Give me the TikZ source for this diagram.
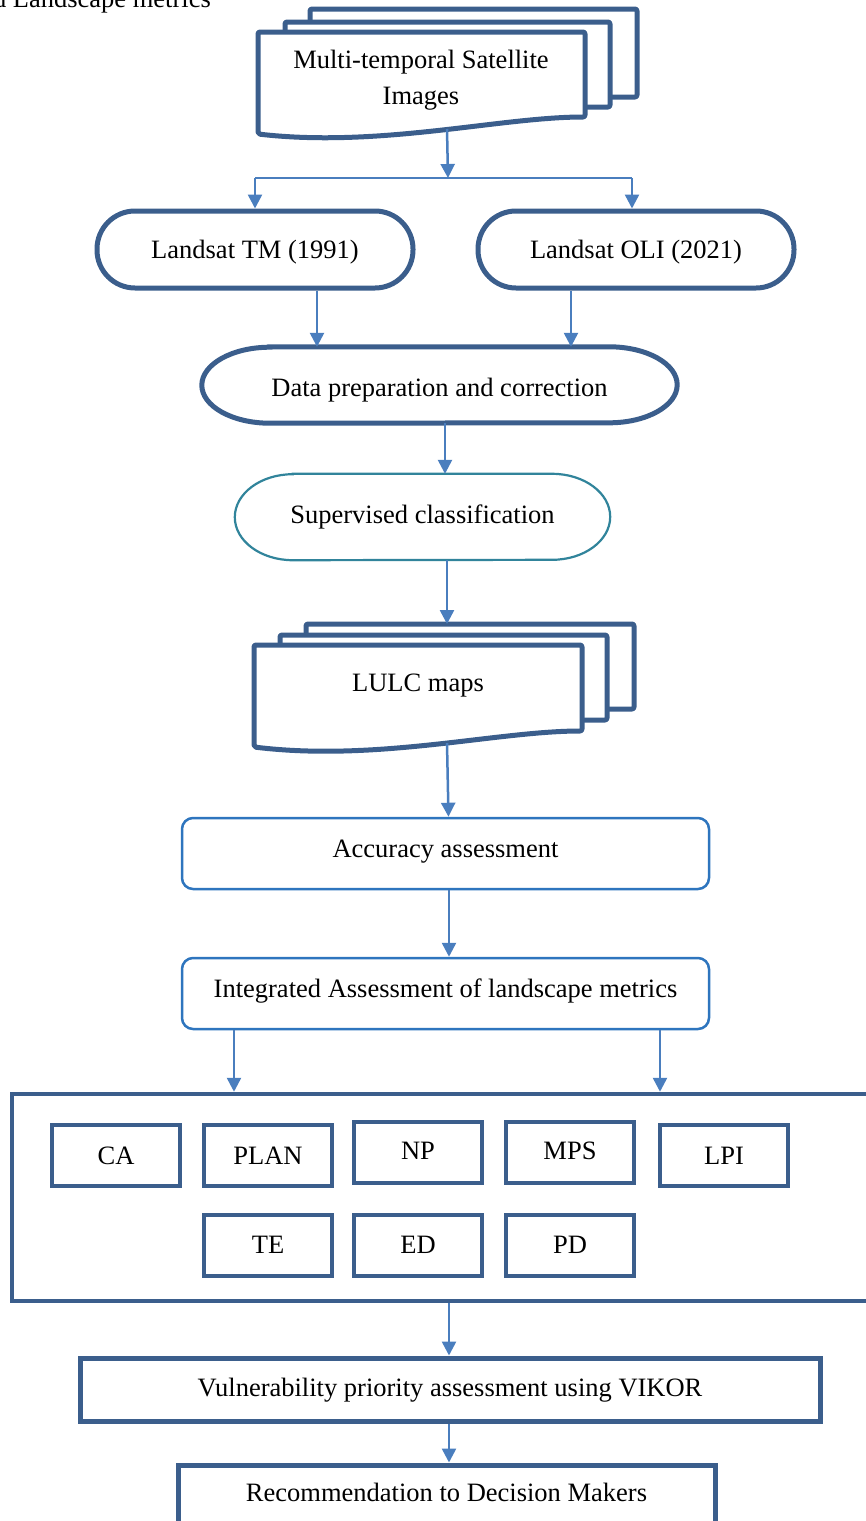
\documentclass[tikz,border=0pt]{standalone}
\usepackage{fontspec}
\setmainfont{Liberation Serif}
\usetikzlibrary{arrows.meta}
\definecolor{dkblue}{RGB}{59,94,140}
\definecolor{arrblue}{RGB}{74,126,190}
\definecolor{tealb}{RGB}{49,132,155}
\definecolor{midblue}{RGB}{46,117,190}
\begin{document}
\begin{tikzpicture}[x=1pt,y=-1pt,
  font=\fontsize{26.5}{36}\selectfont,
  doc/.style={draw=dkblue, line width=5pt, fill=white, line join=round, rounded corners=2pt},
  stadium/.style={draw=dkblue, line width=5pt, fill=white, inner sep=0pt},
  pillthin/.style={draw=tealb, line width=2.2pt, fill=white, inner sep=0pt},
  roundbox/.style={draw=midblue, line width=2.5pt, fill=white, inner sep=0pt, rounded corners=11pt},
  metricbox/.style={draw=dkblue, line width=4.5pt, fill=white, inner sep=0pt, minimum width=128pt},
  plainbox/.style={draw=dkblue, line width=5pt, fill=white, inner sep=0pt},
  arr/.style={draw=arrblue, line width=2.5pt, -{Triangle[width=14pt,length=14pt]}},
  plainline/.style={draw=arrblue, line width=2.2pt}]
\useasboundingbox (0,0) rectangle (866,1521);
\clip (0,0) rectangle (866,1521);

% caption fragment
\node[anchor=base east, inner sep=0pt] (cap) at (211,7) {and Landscape metrics};

% multi-document: satellite images
\draw[doc] (310,9) rectangle (637,97);
\draw[doc] (285,22) rectangle (610,107);
\draw[doc] (258,32) -- (585,32) -- (585,117) .. controls (500,117) and (380,148) .. (258,134) -- cycle;
\node[align=center, inner sep=0pt] (mts) at (421,80.5) {Multi-temporal Satellite\\Images};
\coordinate (mtsb) at (447,129);
\coordinate (split) at (448,178);
\coordinate (splitL) at (255,178);
\coordinate (splitR) at (632,178);

% Landsat nodes
\node[stadium, rounded corners=38pt, minimum width=316pt, text height=47.5pt, text depth=29.5pt] (tm) at (255,249.5) {Landsat TM (1991)};
\node[stadium, rounded corners=38pt, minimum width=316pt, text height=47.5pt, text depth=29.5pt] (oli) at (636,249.5) {Landsat OLI (2021)};

% data preparation (elliptic ends)
\node[inner sep=0pt, minimum width=475pt, text height=49.5pt, text depth=26.5pt] (dp) at (439.5,385) {};
\draw[draw=dkblue, line width=5pt, fill=white]
  ([xshift=68pt]dp.north west) -- ([xshift=-68pt]dp.north east)
  arc[start angle=90, end angle=-90, x radius=68pt, y radius=38pt]
  -- ([xshift=68pt]dp.south west)
  arc[start angle=270, end angle=90, x radius=68pt, y radius=38pt] -- cycle;
\node[inner sep=0pt, minimum width=475pt, text height=49.5pt, text depth=26.5pt] at (dp.center) {Data preparation and correction};

% supervised classification
\node[inner sep=0pt, minimum width=375pt, text height=49.5pt, text depth=36.5pt] (sc) at (422.5,517) {};
\draw[draw=tealb, line width=2.2pt, fill=white]
  ([xshift=58pt]sc.north west) -- ([xshift=-58pt]sc.north east)
  arc[start angle=90, end angle=-90, x radius=58pt, y radius=43pt]
  -- ([xshift=58pt]sc.south west)
  arc[start angle=270, end angle=90, x radius=58pt, y radius=43pt] -- cycle;
\node[inner sep=0pt, minimum width=375pt, text height=49.5pt, text depth=36.5pt] at (sc.center) {Supervised classification};

% multi-document: LULC maps
\draw[doc] (306,624) rectangle (634,709);
\draw[doc] (280,635) rectangle (607,720);
\draw[doc] (254,645) -- (582,645) -- (582,731) .. controls (497,731) and (377,762) .. (254,747) -- cycle;
\node[anchor=base, inner sep=0pt] (lulc) at (418,691.5) {LULC maps};
\coordinate (lulct) at (447,624);
\coordinate (lulcb) at (447,743);

% accuracy and integrated assessment
\node[roundbox, minimum width=527pt, text height=39.5pt, text depth=31.5pt] (acc) at (445.5,853.5) {Accuracy assessment};
\node[roundbox, minimum width=527pt, text height=39.5pt, text depth=31.5pt] (int) at (445.5,993.5) {Integrated Assessment of landscape metrics};

% metrics container
\node[draw=dkblue, line width=4.5pt, inner sep=0pt, minimum width=868pt, minimum height=207pt] (lm) at (446,1197.5) {};
\node[metricbox, text height=39pt, text depth=22pt] (ca) at (116,1155.5) {CA};
\node[metricbox, text height=39pt, text depth=22pt] (plan) at (268,1155.5) {PLAN};
\node[metricbox, text height=37.5pt, text depth=23.5pt] (np) at (418,1152.5) {NP};
\node[metricbox, text height=37.5pt, text depth=23.5pt] (mps) at (570,1152.5) {MPS};
\node[metricbox, text height=39pt, text depth=22pt] (lpi) at (724,1155.5) {LPI};
\node[metricbox, text height=38.5pt, text depth=22.5pt] (te) at (268,1245.5) {TE};
\node[metricbox, text height=38.5pt, text depth=22.5pt] (ed) at (418,1245.5) {ED};
\node[metricbox, text height=38.5pt, text depth=22.5pt] (pd) at (570,1245.5) {PD};

% VIKOR and recommendation
\node[plainbox, minimum width=740pt, text height=38.5pt, text depth=24.5pt] (vik) at (450,1389.5) {Vulnerability priority assessment using VIKOR};
\node[plainbox, minimum width=537pt, text height=36.5pt, text depth=38.5pt] (rec) at (446.5,1502.5) {Recommendation to Decision Makers};

% connectors
\draw[arr] (mtsb) -- (split);
\draw[plainline] (splitL) -- (splitR);
\draw[arr] (splitL) -- (tm.north);
\draw[arr] (splitR) -- (splitR |- oli.north);
\draw[arr] ([xshift=62pt]tm.south) -- ([xshift=62pt]tm.south |- dp.north);
\draw[arr] ([xshift=-65pt]oli.south) -- ([xshift=-65pt]oli.south |- dp.north);
\draw[arr] ([xshift=5.5pt]dp.south) -- ([xshift=5.5pt]dp.south |- sc.north);
\draw[arr] ([xshift=24.5pt]sc.south) -- (lulct);
\draw[arr] (lulcb) -- ([xshift=3pt]acc.north);
\draw[arr] ([xshift=3.5pt]acc.south) -- ([xshift=3.5pt]int.north);
\draw[arr] ([xshift=-211.5pt]int.south) -- ([xshift=-211.5pt]int.south |- lm.north);
\draw[arr] ([xshift=214.5pt]int.south) -- ([xshift=214.5pt]int.south |- lm.north);
\draw[arr] ([xshift=3pt]lm.south) -- ([xshift=3pt]lm.south |- vik.north);
\draw[arr] ([xshift=-1pt]vik.south) -- ([xshift=-1pt]vik.south |- rec.north);
\end{tikzpicture}
\end{document}
